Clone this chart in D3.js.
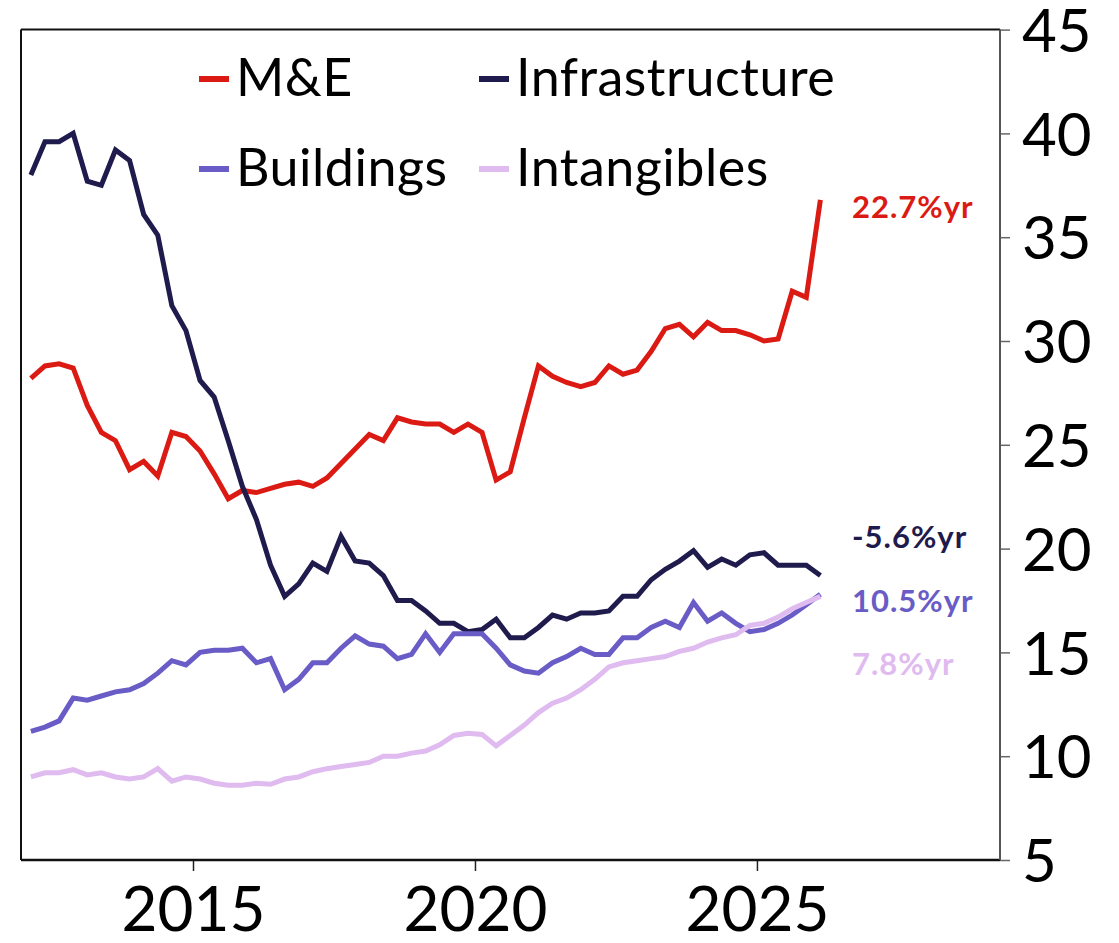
<!DOCTYPE html>
<html lang="en">
<head>
    <meta charset="UTF-8">
    <title>Investment by type</title>
    <script src="https://d3js.org/d3.v7.min.js"></script>
    <style>
        body { margin: 0; background: #fff; }
        svg text { font-family: Lato, "Open Sans", sans-serif; }
    </style>
</head>
<body>
<script>
    // quarterly readings, 2012Q1 .. 2026Q1
    var startYear = 2012, nQuarters = 57;
    var quarters = [];
    for (var k = 0; k < nQuarters; k++) {
        quarters.push(startYear + Math.floor(k / 4) + (k % 4) * 0.25 + 0.125);
    }

    var seriesNames = ["M&E", "Infrastructure", "Buildings", "Intangibles"];
    var growthLabels = ["22.7%yr", "-5.6%yr", "10.5%yr", "7.8%yr"];

    var mAndE = [28.2, 28.8, 28.9, 28.7, 26.9, 25.6, 25.2, 23.8, 24.2, 23.5,
        25.6, 25.4, 24.7, 23.6, 22.4, 22.8, 22.7, 22.9, 23.1, 23.2,
        23.0, 23.4, 24.1, 24.8, 25.5, 25.2, 26.3, 26.1, 26.0, 26.0,
        25.6, 26.0, 25.6, 23.3, 23.7, 26.3, 28.8, 28.3, 28.0, 27.8,
        28.0, 28.8, 28.4, 28.6, 29.5, 30.6, 30.8, 30.2, 30.9, 30.5,
        30.5, 30.3, 30.0, 30.1, 32.4, 32.1, 36.8];

    var infrastructure = [38.0, 39.6, 39.6, 40.0, 37.7, 37.5, 39.2, 38.7, 36.1, 35.1,
        31.7, 30.5, 28.1, 27.3, 25.2, 23.0, 21.4, 19.2, 17.7, 18.3,
        19.3, 18.9, 20.6, 19.4, 19.3, 18.7, 17.5, 17.5, 17.0, 16.4,
        16.4, 16.0, 16.1, 16.6, 15.7, 15.7, 16.2, 16.8, 16.6, 16.9,
        16.9, 17.0, 17.7, 17.7, 18.5, 19.0, 19.4, 19.9, 19.1, 19.5,
        19.2, 19.7, 19.8, 19.2, 19.2, 19.2, 18.7];

    var buildings = [11.2, 11.4, 11.7, 12.8, 12.7, 12.9, 13.1, 13.2, 13.5, 14.0,
        14.6, 14.4, 15.0, 15.1, 15.1, 15.2, 14.5, 14.7, 13.2, 13.7,
        14.5, 14.5, 15.2, 15.8, 15.4, 15.3, 14.7, 14.9, 15.9, 15.0,
        15.9, 15.9, 15.9, 15.2, 14.4, 14.1, 14.0, 14.5, 14.8, 15.2,
        14.9, 14.9, 15.7, 15.7, 16.2, 16.5, 16.2, 17.4, 16.5, 16.9,
        16.4, 16.0, 16.1, 16.4, 16.8, 17.3, 17.8];

    var intangibles = [9.0, 9.2, 9.2, 9.35, 9.1, 9.2, 9.0, 8.9, 9.0, 9.4,
        8.8, 9.0, 8.9, 8.7, 8.6, 8.6, 8.7, 8.65, 8.9, 9.0,
        9.25, 9.4, 9.5, 9.6, 9.7, 10.0, 10.0, 10.15, 10.25, 10.55,
        11.0, 11.1, 11.05, 10.5, 11.0, 11.5, 12.1, 12.55, 12.8, 13.2,
        13.7, 14.3, 14.5, 14.6, 14.7, 14.8, 15.05, 15.2, 15.5, 15.7,
        15.85, 16.3, 16.4, 16.7, 17.1, 17.4, 17.7];

    var xTicks = [2015, 2020, 2025];
    var yTicks = [5, 10, 15, 20, 25, 30, 35, 40, 45];

    var colors = ["#dc1a14", "#1f1b4d", "#6a5cc6", "#dfbbf0"];
    var allSeries = [mAndE, infrastructure, buildings, intangibles];

    var width = 1119, height = 943;
    var plotL = 21, plotR = 1000, plotT = 29.6, plotB = 860;

    var svg = d3.select("body").append("svg")
        .attr("width", width)
        .attr("height", height);

    var x = d3.scaleLinear().domain([2011.95, 2029.31]).range([plotL, plotR]);
    var y = d3.scaleLinear().domain([5, 45]).range([plotB, plotT]);

    // axes
    var xAxis = svg.append("g")
        .attr("transform", "translate(0," + plotB + ")")
        .call(d3.axisBottom(x).tickValues(xTicks).tickFormat(d3.format("d")).tickSize(11).tickPadding(16));
    xAxis.select(".domain").remove();
    xAxis.selectAll("line").attr("stroke", "#222").attr("stroke-width", 1.5);
    xAxis.selectAll("text").attr("font-size", 62).attr("fill", "#000").attr("dy", "0.71em");

    var yAxis = svg.append("g")
        .attr("transform", "translate(" + plotR + ",0)")
        .call(d3.axisRight(y).tickValues(yTicks).tickSize(10).tickPadding(12));
    yAxis.select(".domain").remove();
    yAxis.selectAll("line").attr("stroke", "#666").attr("stroke-width", 1.5);
    yAxis.selectAll("text").attr("font-size", 60).attr("fill", "#000").attr("dy", "0.36em");

    // frame
    svg.append("line").attr("x1", plotL).attr("x2", plotR).attr("y1", plotT).attr("y2", plotT)
        .attr("stroke", "#111").attr("stroke-width", 2);
    svg.append("line").attr("x1", plotL).attr("x2", plotR).attr("y1", plotB).attr("y2", plotB)
        .attr("stroke", "#111").attr("stroke-width", 2.5);
    svg.append("line").attr("x1", plotL).attr("x2", plotL).attr("y1", plotT).attr("y2", plotB)
        .attr("stroke", "#111").attr("stroke-width", 2);
    svg.append("line").attr("x1", plotR).attr("x2", plotR).attr("y1", plotT).attr("y2", plotB)
        .attr("stroke", "#555").attr("stroke-width", 2);

    // lines
    var line = d3.line()
        .x(function (d, i) { return x(quarters[i]); })
        .y(function (d) { return y(d); });

    svg.selectAll(".series")
        .data(allSeries)
        .enter().append("path")
        .attr("class", "series")
        .attr("d", line)
        .attr("fill", "none")
        .attr("stroke", function (d, i) { return colors[i]; })
        .attr("stroke-width", 5)
        .attr("stroke-linejoin", "miter");

    // growth labels at the end of each line
    var labelY = [36.45, 20.56, 17.48, 14.44];
    svg.selectAll(".growth")
        .data(growthLabels)
        .enter().append("text")
        .attr("class", "growth")
        .attr("x", 852)
        .attr("y", function (d, i) { return y(labelY[i]); })
        .attr("dy", "0.36em")
        .attr("font-size", 31)
        .attr("letter-spacing", 1)
        .attr("font-weight", "bold")
        .attr("fill", function (d, i) { return colors[i]; })
        .text(function (d) { return d; });

    // legend, two columns
    var legX = [199, 479], legY = [79, 169];
    var leg = svg.selectAll(".leg")
        .data(seriesNames)
        .enter().append("g")
        .attr("class", "leg")
        .attr("transform", function (d, i) {
            return "translate(" + legX[i % 2] + "," + legY[Math.floor(i / 2)] + ")";
        });
    leg.append("line")
        .attr("x1", 0).attr("x2", 30)
        .attr("stroke", function (d, i) { return colors[i]; })
        .attr("stroke-width", 6);
    leg.append("text")
        .attr("x", 37)
        .attr("y", 17)
        .attr("font-size", 52)
        .attr("letter-spacing", 0.5)
        .attr("fill", "#000")
        .text(function (d) { return d; });
</script>
</body>
</html>
